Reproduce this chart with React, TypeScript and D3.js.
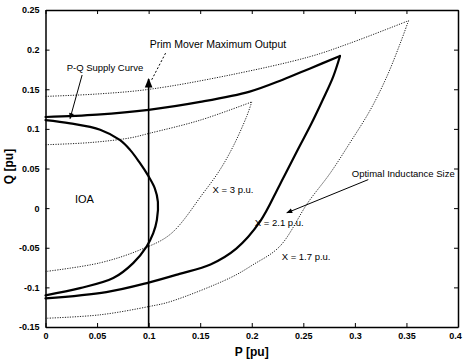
import React, { useRef, useEffect } from 'react'
import { select, scaleLinear, line, curveCatmullRom, axisBottom, axisLeft, axisTop, axisRight } from 'd3'

// [P, Q] points, each loop split at its tip
const supplyUpper = [
  [0, 0.115], [0.05, 0.118], [0.1, 0.124], [0.15, 0.134], [0.198, 0.147], [0.23, 0.162], [0.256, 0.176], [0.2856, 0.192]
]
const supplyLower = [
  [0.2856, 0.192], [0.279, 0.166], [0.269, 0.137], [0.258, 0.107], [0.246, 0.077], [0.227, 0.029],
  [0.208, -0.017], [0.185, -0.051], [0.16, -0.071], [0.13, -0.083], [0.1, -0.094], [0.059, -0.106], [0, -0.114]
]
const ioaCurve = [
  [0, 0.111], [0.024, 0.107], [0.053, 0.099], [0.072, 0.086], [0.082, 0.0735], [0.091, 0.058], [0.1, 0.04],
  [0.106, 0.025], [0.109, 0.008], [0.108, -0.015], [0.1045, -0.0316], [0.098, -0.0485], [0.085, -0.0694],
  [0.0657, -0.0883], [0.0335, -0.101], [0, -0.11]
]
const x17Upper = [
  [0, 0.141], [0.05, 0.144], [0.101, 0.15], [0.179, 0.168], [0.256, 0.191], [0.295, 0.208], [0.352, 0.2365]
]
const x17Lower = [
  [0.352, 0.2365], [0.344, 0.208], [0.331, 0.166], [0.315, 0.124], [0.295, 0.082], [0.276, 0.044], [0.2545, 0.007],
  [0.227, -0.0485], [0.201, -0.0716], [0.179, -0.088], [0.121, -0.118], [0.101, -0.124], [0.053, -0.1346], [0, -0.139]
]
const x3Upper = [
  [0, 0.08], [0.043, 0.0827], [0.082, 0.0886], [0.101, 0.0945], [0.15, 0.111], [0.2, 0.134]
]
const x3Lower = [
  [0.2, 0.134], [0.195, 0.1155], [0.182, 0.078], [0.169, 0.048], [0.153, 0.019], [0.121, -0.033],
  [0.0916, -0.0527], [0.053, -0.069], [0, -0.08]
]
const primeMoverP = 0.1
const primeMoverTop = 0.163

const xTicks = [0, 0.05, 0.1, 0.15, 0.2, 0.25, 0.3, 0.35, 0.4]
const yTicks = [-0.15, -0.1, -0.05, 0, 0.05, 0.1, 0.15, 0.2, 0.25]

// annotations: text, [P, Q] anchor
const labels = [
  { text: 'P-Q Supply Curve', at: [0.0205, 0.173], size: 9.5 },
  { text: 'Prim Mover Maximum Output', at: [0.101, 0.202], size: 10.5 },
  { text: 'IOA', at: [0.0286, 0.006], size: 11 },
  { text: 'X = 3 p.u.', at: [0.162, 0.019], size: 9.5 },
  { text: 'Optimal Inductance Size', at: [0.297, 0.039], size: 9.5 },
  { text: 'X = 2.1 p.u.', at: [0.203, -0.022], size: 9.5 },
  { text: 'X = 1.7 p.u.', at: [0.229, -0.065], size: 9.5 },
]
const arrows = [
  { from: [0.0355, 0.168], to: [0.0238, 0.113] },
  { from: [0.313, 0.036], to: [0.234, -0.006] },
]
const pointer = { from: [0.103, 0.162], to: [0.117, 0.197] }

export default function App() {
  const canvas = useRef<SVGSVGElement>(null)
  const W = 463
  const H = 359
  const margin = { top: 10, right: 5, bottom: 32, left: 45.5 }

  useEffect(() => {
    const svg = select(canvas.current)
    svg.selectAll('*').remove()
    const font = '"Liberation Sans", Arial, sans-serif'

    const x = scaleLinear().domain([0, 0.4]).range([margin.left, W - margin.right])
    const y = scaleLinear().domain([-0.15, 0.25]).range([H - margin.bottom, margin.top])

    const defs = svg.append('defs')
    defs.append('marker').attr('id', 'ah').attr('viewBox', '0 0 10 10').attr('refX', 9).attr('refY', 5)
      .attr('markerWidth', 7).attr('markerHeight', 6).attr('orient', 'auto')
      .append('path').attr('d', 'M0,1 L10,5 L0,9 Z').attr('fill', '#000')

    svg.append('rect').attr('x', 0).attr('y', 0).attr('width', W).attr('height', H).attr('fill', '#fff')

    // axes with inward ticks, matlab style box
    const fmt = (d: any) => String(+d.toFixed(2))
    const g = svg.append('g').style('font-family', font)
    g.append('g').attr('transform', `translate(0,${y(-0.15)})`)
      .call(axisBottom(x).tickValues(xTicks).tickSizeInner(-4).tickSizeOuter(0).tickPadding(6).tickFormat(fmt))
    g.append('g').attr('transform', `translate(${x(0)},0)`)
      .call(axisLeft(y).tickValues(yTicks).tickSizeInner(-4).tickSizeOuter(0).tickPadding(6).tickFormat(fmt))
    g.append('g').attr('transform', `translate(0,${y(0.25)})`)
      .call(axisTop(x).tickValues(xTicks).tickSizeInner(-4).tickSizeOuter(0).tickFormat(() => ''))
    g.append('g').attr('transform', `translate(${x(0.4)},0)`)
      .call(axisRight(y).tickValues(yTicks).tickSizeInner(-4).tickSizeOuter(0).tickFormat(() => ''))
    g.selectAll('.domain').attr('stroke', '#000').attr('stroke-width', 1.5)
    g.selectAll('.tick line').attr('stroke', '#000').attr('stroke-width', 1)
    g.selectAll('.tick text').attr('font-size', 9).attr('font-weight', 'bold').attr('fill', '#000')
    // last x label sits at the page edge, nudge it in
    g.selectAll('.tick text').filter((d: any) => d === 0.4).attr('dx', -3)

    const path = line<number[]>().x(d => x(d[0])).y(d => y(d[1])).curve(curveCatmullRom.alpha(0.5))

    for (const c of [x17Upper, x17Lower, x3Upper, x3Lower]) {
      svg.append('path').datum(c).attr('d', path).attr('fill', 'none').attr('stroke', '#222')
        .attr('stroke-width', 1).attr('stroke-dasharray', '1.2,1.3')
    }
    for (const c of [supplyUpper, supplyLower, ioaCurve]) {
      svg.append('path').datum(c).attr('d', path).attr('fill', 'none').attr('stroke', '#000')
        .attr('stroke-width', 2.2).attr('stroke-linecap', 'round')
    }

    // prime mover limit
    svg.append('line').attr('x1', x(primeMoverP)).attr('x2', x(primeMoverP))
      .attr('y1', y(-0.15)).attr('y2', y(primeMoverTop)).attr('stroke', '#000').attr('stroke-width', 1.6)
      .attr('marker-end', 'url(#ah)')
    svg.append('line').attr('x1', x(pointer.from[0])).attr('y1', y(pointer.from[1]))
      .attr('x2', x(pointer.to[0])).attr('y2', y(pointer.to[1]))
      .attr('stroke', '#000').attr('stroke-width', 1).attr('stroke-dasharray', '2,2')

    for (const a of arrows) {
      svg.append('line').attr('x1', x(a.from[0])).attr('y1', y(a.from[1]))
        .attr('x2', x(a.to[0])).attr('y2', y(a.to[1]))
        .attr('stroke', '#000').attr('stroke-width', 1).attr('marker-end', 'url(#ah)')
    }

    svg.selectAll('text.lbl').data(labels).enter().append('text').attr('class', 'lbl')
      .attr('x', d => x(d.at[0])).attr('y', d => y(d.at[1]))
      .attr('font-family', font).attr('font-size', d => d.size).attr('fill', '#000')
      .text(d => d.text)

    svg.append('text').attr('x', (x(0) + x(0.4)) / 2).attr('y', H - 3).attr('text-anchor', 'middle')
      .attr('font-family', font).attr('font-size', 12).attr('font-weight', 'bold').text('P [pu]')
    svg.append('text').attr('transform', `translate(13,${y(0.05) - 2}) rotate(-90)`).attr('text-anchor', 'middle')
      .attr('font-family', font).attr('font-size', 12).attr('font-weight', 'bold').text('Q [pu]')
  })

  return (
    <svg ref={canvas} width={W} height={H} style={{ position: 'absolute', left: 0, top: 0 }} />
  )
}
